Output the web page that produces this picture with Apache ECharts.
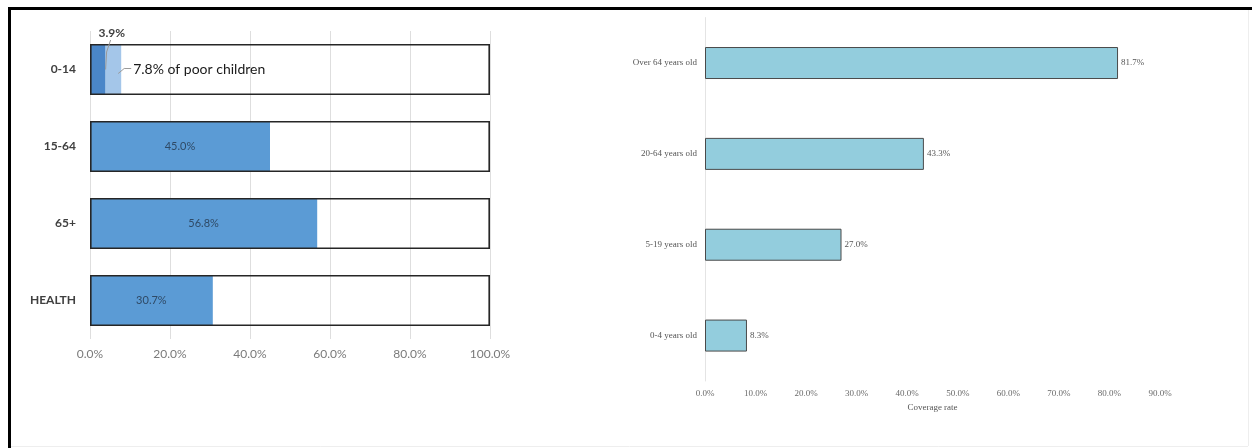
<!DOCTYPE html>
<html>
<head>
<meta charset="utf-8">
<script src="https://cdn.jsdelivr.net/npm/echarts@6/dist/echarts.min.js"></script>
<style>
html,body{margin:0;padding:0;background:#fff;}
#chart{width:1252px;height:448px;}
</style>
</head>
<body>
<div id="chart"></div>
<script>
// ---- Left panel data ----
const leftCategories = ['0-14', '15-64', '65+', 'HEALTH'];
const leftValues = [3.9, 45.0, 56.8, 30.7];
const poorChildrenShare = 7.8; // 0-14 : share of poor children
const leftFull = [100, 100, 100, 100];
const leftTicks = [0, 20, 40, 60, 80, 100];

// ---- Right panel data ----
const rightCategories = ['Over 64 years old', '20-64 years old', '5-19 years old', '0-4 years old'];
const rightValues = [81.7, 43.3, 27.0, 8.3];
const rightTicks = [0, 10, 20, 30, 40, 50, 60, 70, 80, 90];

const lightExtra = leftCategories.map((c, i) => i === 0 ? +(poorChildrenShare - leftValues[0]).toFixed(1) : 0);

const leftFont = 'Lato, "Open Sans", sans-serif';
const rightFont = '"Liberation Serif", "DejaVu Serif", serif';

const chart = echarts.init(document.getElementById('chart'), null, {renderer: 'canvas'});

const option = {
  backgroundColor: '#ffffff',
  animation: false,
  grid: [
    {left: 90, right: 762, top: 31, height: 308},
    {left: 705, right: 92, top: 17.6, height: 363.4}
  ],
  xAxis: [
    {
      gridIndex: 0, type: 'value', min: 0, max: 100, interval: 20,
      axisLine: {show: false}, axisTick: {show: false},
      splitLine: {show: true, lineStyle: {color: '#dedede', width: 1}},
      axisLabel: {color: '#7a7a7a', fontFamily: leftFont, fontSize: 12, margin: 9,
        formatter: v => v.toFixed(1) + '%'}
    },
    {
      gridIndex: 1, type: 'value', min: 0, max: 90, interval: 10,
      axisLine: {show: false}, axisTick: {show: false},
      splitLine: {show: false},
      axisLabel: {color: '#6a6a6a', fontFamily: rightFont, fontSize: 9, margin: 8,
        formatter: v => v.toFixed(1) + '%'},
      name: 'Coverage rate', nameLocation: 'middle', nameGap: 22,
      nameTextStyle: {color: '#555', fontFamily: rightFont, fontSize: 9}
    }
  ],
  yAxis: [
    {
      gridIndex: 0, type: 'category', data: leftCategories, inverse: true,
      axisLine: {show: false}, axisTick: {show: false},
      axisLabel: {color: '#404040', fontFamily: leftFont, fontSize: 12, fontWeight: 'bold', margin: 14}
    },
    {
      gridIndex: 1, type: 'category', data: rightCategories, inverse: true,
      axisLine: {show: true, lineStyle: {color: '#e4e4e4', width: 1}}, axisTick: {show: false},
      axisLabel: {color: '#555', fontFamily: rightFont, fontSize: 9, margin: 8}
    }
  ],
  series: [
    {
      name: 'coverage', type: 'bar', xAxisIndex: 0, yAxisIndex: 0, stack: 'left',
      barWidth: 51, barGap: '-100%',
      data: leftValues.map((v, i) => i === 0 ? {
        value: v,
        itemStyle: {color: '#4a86c8'},
        label: {show: true, position: 'top', offset: [14, 0], color: '#404040',
          fontWeight: 'bold', fontSize: 12, formatter: p => p.value.toFixed(1) + '%'}
      } : v),
      itemStyle: {color: '#5b9bd5'},
      label: {show: true, position: 'inside', color: '#2f4a66', fontFamily: leftFont, fontSize: 11,
        formatter: p => p.value.toFixed(1) + '%'},
      z: 2
    },
    {
      name: 'poor children', type: 'bar', xAxisIndex: 0, yAxisIndex: 0, stack: 'left',
      barWidth: 51, barGap: '-100%',
      data: lightExtra.map((v, i) => i === 0 ? {
        value: v,
        label: {show: true, position: 'right', distance: 12, color: '#1a1a1a', fontFamily: leftFont,
          fontSize: 14, formatter: () => poorChildrenShare.toFixed(1) + '% of poor children'}
      } : v),
      itemStyle: {color: '#a4c6e9'},
      label: {show: false},
      z: 2
    },
    {
      name: 'outline', type: 'bar', xAxisIndex: 0, yAxisIndex: 0,
      barWidth: 51, barGap: '-100%',
      data: leftFull,
      itemStyle: {color: 'rgba(0,0,0,0)', borderColor: '#262626', borderWidth: 1.6},
      silent: true,
      z: 3
    },
    {
      name: 'Coverage rate', type: 'bar', xAxisIndex: 1, yAxisIndex: 1,
      barWidth: 32,
      data: rightValues,
      itemStyle: {color: '#93cddd', borderColor: '#4a4a4a', borderWidth: 1},
      label: {show: true, position: 'right', distance: 3, color: '#555', fontFamily: rightFont, fontSize: 9,
        formatter: p => p.value.toFixed(1) + '%'}
    }
  ],
  graphic: [
    {type: 'line', shape: {x1: 9, y1: 8.5, x2: 1252, y2: 8.5}, style: {stroke: '#000', lineWidth: 3}, z: 100},
    {type: 'line', shape: {x1: 9.5, y1: 7, x2: 9.5, y2: 448}, style: {stroke: '#000', lineWidth: 3}, z: 100},
    {type: 'line', shape: {x1: 1248.5, y1: 10, x2: 1248.5, y2: 446}, style: {stroke: '#eeeeee', lineWidth: 1}, z: 100},
    {type: 'line', shape: {x1: 11, y1: 446.5, x2: 1248, y2: 446.5}, style: {stroke: '#eeeeee', lineWidth: 1}, z: 100}
  ]
};

chart.setOption(option);

// Leader lines for the 0-14 annotations, positioned from the axes
const ctr = chart.convertToPixel({xAxisIndex: 0, yAxisIndex: 0}, [leftValues[0], leftCategories[0]]);
const lightEnd = chart.convertToPixel({xAxisIndex: 0, yAxisIndex: 0}, [poorChildrenShare, leftCategories[0]]);
const barTop = ctr[1] - 25.5;
chart.setOption({
  graphic: option.graphic.concat([
    {type: 'polyline', shape: {points: [[ctr[0] + 5, barTop - 4], [ctr[0] + 1, barTop + 8], [ctr[0], ctr[1]]]},
      style: {stroke: '#9a9a9a', lineWidth: 1, fill: null}, z: 50},
    {type: 'polyline', shape: {points: [[lightEnd[0] - 3, ctr[1] + 4], [lightEnd[0] + 3, ctr[1] - 1], [lightEnd[0] + 10, ctr[1] - 1]]},
      style: {stroke: '#9a9a9a', lineWidth: 1, fill: null}, z: 50}
  ])
});
</script>
</body>
</html>
